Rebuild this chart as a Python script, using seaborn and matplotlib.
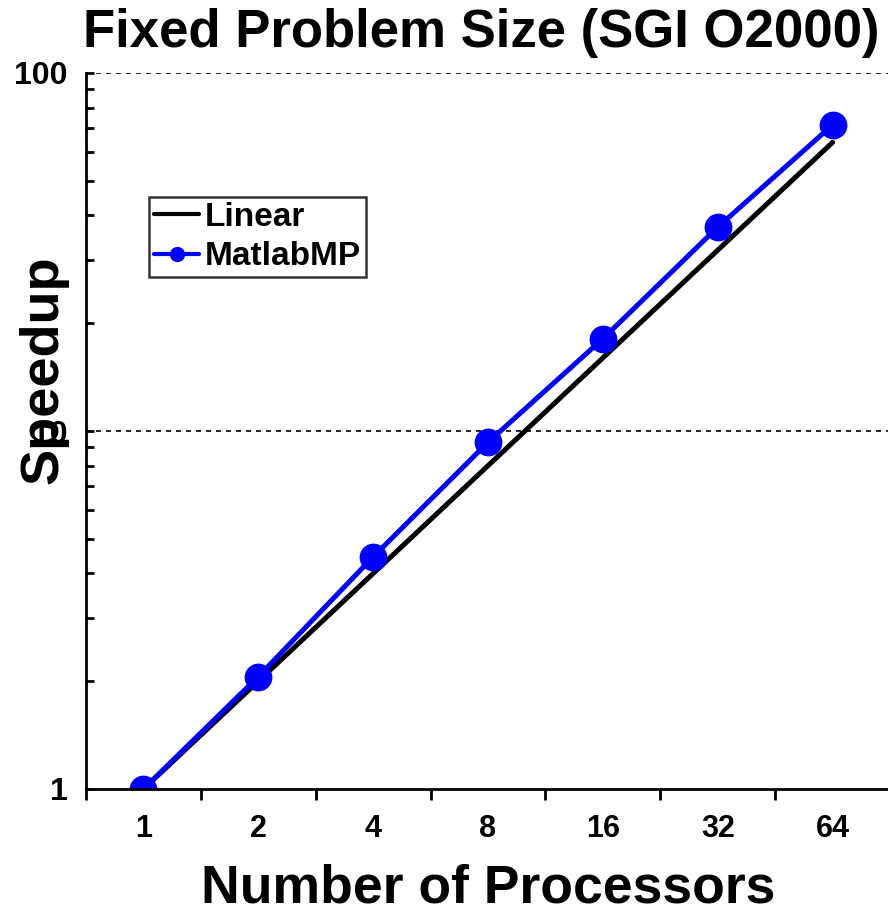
import matplotlib
matplotlib.use("Agg")
import matplotlib.pyplot as plt
import seaborn as sns
import pandas as pd
from matplotlib.ticker import LogLocator, NullFormatter, FixedLocator, FixedFormatter

processors = ["1", "2", "4", "8", "16", "32", "64"]
linear = [1, 2, 4, 8, 16, 32, 64]
matlabmp = [1.0, 2.06, 4.45, 9.3, 18.1, 37.1, 71.6]

df_lin = pd.DataFrame({"Processors": processors, "Speedup": linear})
df_mp = pd.DataFrame({"Processors": processors, "Speedup": matlabmp})

sns.set_theme(style="white")
plt.rcParams["font.family"] = ["Liberation Sans", "DejaVu Sans"]
plt.rcParams["font.weight"] = "bold"
for k in ["text.color", "axes.labelcolor", "xtick.color", "ytick.color"]:
    plt.rcParams[k] = "black"

fig = plt.figure(figsize=(8.88, 9.15), dpi=100)
ax = fig.add_axes([86 / 888, 1 - 789 / 915, 804 / 888, (789 - 73) / 915])

sns.lineplot(data=df_lin, x="Processors", y="Speedup", color="black",
             linewidth=3.6, ax=ax, sort=False, label="Linear")
sns.lineplot(data=df_mp, x="Processors", y="Speedup", color="#0000FF",
             marker="o", markersize=20, markeredgewidth=0,
             linewidth=3.6, ax=ax, sort=False, label="MatlabMP")

ax.set_yscale("log")
ax.set_ylim(1, 100)
ax.set_xlim(-0.5, 6.5)

ax.yaxis.set_major_locator(FixedLocator([1, 10, 100]))
ax.yaxis.set_major_formatter(FixedFormatter(["1", "10", "100"]))
ax.yaxis.set_minor_locator(LogLocator(base=10, subs=range(2, 10)))
ax.yaxis.set_minor_formatter(NullFormatter())

ax.set_xticks(range(len(processors)))
ax.set_xticklabels(processors)
ax.xaxis.set_minor_locator(FixedLocator([i - 0.5 for i in range(len(processors) + 1)]))

ax.tick_params(axis="x", which="major", length=0, pad=18, labelsize=22)
ax.tick_params(axis="x", which="minor", direction="out", length=8, width=2, color="black", bottom=True)
ax.tick_params(axis="y", which="both", direction="in", length=6, width=2, color="black", left=True,
               labelsize=23, pad=13)

for side in ["top", "right"]:
    ax.spines[side].set_visible(False)
for side in ["left", "bottom"]:
    ax.spines[side].set_color("black")
    ax.spines[side].set_linewidth(2)

ax.grid(False)
for yv in [10, 100]:
    ax.axhline(yv, color="black", linewidth=1.2, linestyle=(0, (3, 3)), zorder=0.5)

ax.set_xlabel("Number of Processors", fontsize=38.5, fontweight="bold", labelpad=14)
ax.set_ylabel("Speedup", fontsize=39, fontweight="bold")
ax.yaxis.set_label_coords((68 - 86) / 804, (789 - 370) / 716)
fig.suptitle("Fixed Problem Size (SGI O2000)", fontsize=38, fontweight="bold", x=0.542, y=0.991, va="top")

leg = ax.legend(loc="upper left", bbox_to_anchor=((149 - 86) / 804, (789 - 197) / 716),
                frameon=True, fancybox=False, fontsize=24, handlelength=1.35,
                borderpad=0.15, labelspacing=0.25, handletextpad=0.18, borderaxespad=0)
leg.get_frame().set_edgecolor("black")
leg.get_frame().set_linewidth(1.8)
for t in leg.get_texts():
    t.set_fontweight("bold")
for h in leg.legend_handles:
    h.set_markersize(11)
    h.set_linewidth(3)

fig.savefig("out.png", dpi=100)
